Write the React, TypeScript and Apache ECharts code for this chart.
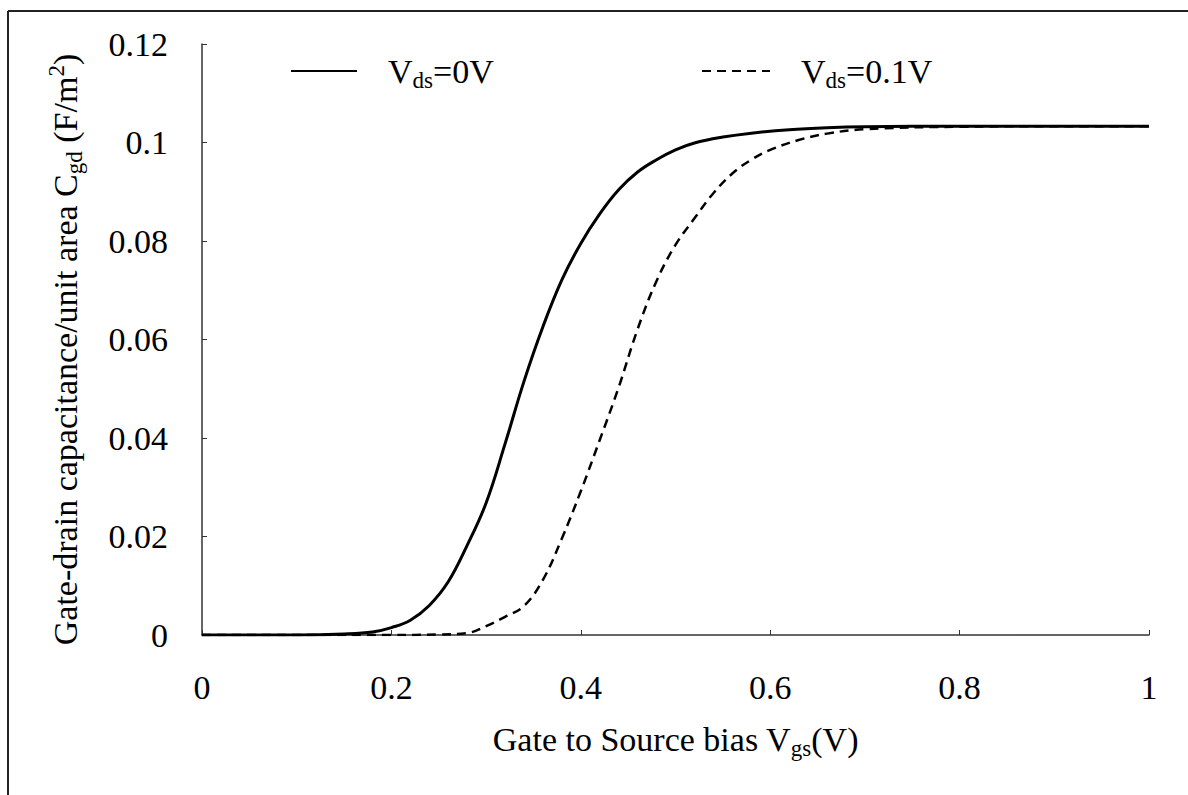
import React, { useEffect, useRef } from "react";
import * as echarts from "echarts";

const FONT = "'Liberation Serif', 'Times New Roman', 'DejaVu Serif', serif";

// Vgs (V) sample points and Cgd (F/m^2) for Vds = 0 V
const vgsSolid = [0, 0.05, 0.1, 0.15, 0.18, 0.2, 0.22, 0.24, 0.26, 0.28, 0.3, 0.32, 0.34, 0.36, 0.38, 0.4, 0.42, 0.44, 0.46, 0.48, 0.5, 0.52, 0.55, 0.58, 0.62, 0.66, 0.7, 0.8, 0.9, 1.0];
const cgdSolid = [0, 0, 0, 0.0002, 0.0006, 0.0015, 0.003, 0.006, 0.0108, 0.0182, 0.0268, 0.0388, 0.0515, 0.0626, 0.0721, 0.0795, 0.0855, 0.0904, 0.094, 0.0965, 0.0985, 0.0999, 0.1011, 0.1019, 0.1026, 0.103, 0.1032, 0.1033, 0.1033, 0.1033];

// Vgs (V) sample points and Cgd (F/m^2) for Vds = 0.1 V
const vgsDashed = [0, 0.1, 0.2, 0.25, 0.28, 0.3, 0.32, 0.34, 0.36, 0.38, 0.4, 0.42, 0.44, 0.46, 0.48, 0.5, 0.52, 0.54, 0.56, 0.58, 0.6, 0.63, 0.66, 0.7, 0.8, 0.9, 1.0];
const cgdDashed = [0, 0, 0, 0.0001, 0.0004, 0.0018, 0.0037, 0.0059, 0.0112, 0.0196, 0.0292, 0.0396, 0.0503, 0.0621, 0.0719, 0.0792, 0.0846, 0.0897, 0.0937, 0.0965, 0.0985, 0.1005, 0.1018, 0.1027, 0.1032, 0.1033, 0.1033];

const xTickLabels = ["0", "0.2", "0.4", "0.6", "0.8", "1"];
const yTickLabels = ["0", "0.02", "0.04", "0.06", "0.08", "0.1", "0.12"];

const seriesNames = ["Vds=0V", "Vds=0.1V"];

const rich = {
  a: { fontFamily: FONT, fontSize: 34, color: "#000" },
  s: { fontFamily: FONT, fontSize: 23, color: "#000", padding: [18, 0, 0, 0] },
  p: { fontFamily: FONT, fontSize: 23, color: "#000", padding: [0, 0, 18, 0] },
  g: { width: 26 },
};

export default function App() {
  const ref = useRef<HTMLDivElement>(null);

  useEffect(() => {
    if (!ref.current) return;
    const chart = echarts.init(ref.current, null, { renderer: "svg" });

    const solidData = vgsSolid.map((v, i) => [v, cgdSolid[i]]);
    const dashedData = vgsDashed.map((v, i) => [v, cgdDashed[i]]);

    const legendFormatter = (name: string) =>
      name === seriesNames[0]
        ? "{g|}{a|V}{s|ds}{a|=0V}"
        : "{g|}{a|V}{s|ds}{a|=0.1V}";

    const legendCommon = {
      top: 49,
      itemHeight: 14,
      formatter: legendFormatter,
      textStyle: { fontFamily: FONT, fontSize: 34, color: "#000", rich },
      itemStyle: { color: "rgba(0,0,0,0)", borderWidth: 0, opacity: 0 },
    };

    const option: any = {
      animation: false,
      backgroundColor: "#fff",
      textStyle: { fontFamily: FONT },
      grid: { left: 202, right: 39, top: 44, bottom: 160 },
      graphic: [
        { type: "line", shape: { x1: 8, y1: 11, x2: 1188, y2: 11 }, style: { stroke: "#222", lineWidth: 2 } },
        { type: "line", shape: { x1: 8, y1: 11, x2: 8, y2: 795 }, style: { stroke: "#222", lineWidth: 2 } },
      ],
      legend: [
        { ...legendCommon, data: [seriesNames[0]], left: 285, itemWidth: 66 },
        { ...legendCommon, data: [seriesNames[1]], left: 696, itemWidth: 68 },
      ],
      xAxis: {
        type: "value",
        min: 0,
        max: 1,
        interval: 0.2,
        name: "{a|Gate to Source bias V}{s|gs}{a|(V)}",
        nameLocation: "middle",
        nameGap: 84,
        nameTextStyle: { fontFamily: FONT, fontSize: 34, rich },
        axisLine: { lineStyle: { color: "#333", width: 1.5 } },
        axisTick: { inside: true, length: 5, lineStyle: { color: "#333" } },
        splitLine: { show: false },
        axisLabel: {
          margin: 35,
          fontFamily: FONT,
          fontSize: 34,
          color: "#000",
          formatter: (v: number) => xTickLabels[Math.round(v / 0.2)] ?? "",
        },
      },
      yAxis: {
        type: "value",
        min: 0,
        max: 0.12,
        interval: 0.02,
        name: "{a|Gate-drain capacitance/unit area C}{s|gd}{a| (F/m}{p|2}{a|)}",
        nameLocation: "middle",
        nameGap: 116,
        nameTextStyle: { fontFamily: FONT, fontSize: 34, rich, padding: [0, 20, 0, 0] },
        axisLine: { show: true, lineStyle: { color: "#333", width: 1.5 } },
        axisTick: { show: true, inside: true, length: 5, lineStyle: { color: "#333" } },
        splitLine: { show: false },
        axisLabel: {
          margin: 34,
          fontFamily: FONT,
          fontSize: 34,
          color: "#000",
          formatter: (v: number) => yTickLabels[Math.round(v / 0.02)] ?? "",
        },
      },
      series: [
        {
          name: seriesNames[0],
          type: "line",
          data: solidData,
          symbol: "none",
          showSymbol: false,
          smooth: 0.4,
          lineStyle: { color: "#000", width: 3, type: "solid" },
          itemStyle: { color: "#000" },
        },
        {
          name: seriesNames[1],
          type: "line",
          data: dashedData,
          symbol: "none",
          showSymbol: false,
          smooth: 0.4,
          lineStyle: { color: "#000", width: 2.5, type: [9, 6] },
          itemStyle: { color: "#000" },
        },
      ],
    };

    chart.setOption(option);
    return () => chart.dispose();
  }, []);

  return (
    <div
      ref={ref}
      style={{ position: "absolute", left: 0, top: 0, width: 1188, height: 795 }}
    />
  );
}
